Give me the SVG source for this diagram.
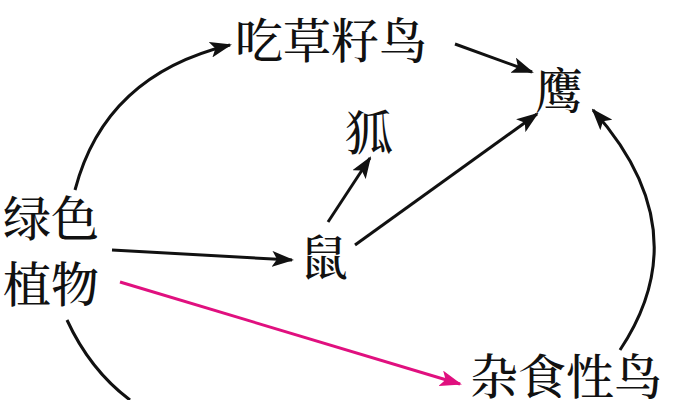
<svg xmlns="http://www.w3.org/2000/svg" width="689" height="400" viewBox="0 0 689 400">
<defs>
<marker id="ab" markerWidth="22" markerHeight="16" refX="20" refY="8" orient="auto" markerUnits="userSpaceOnUse" viewBox="0 0 22 16"><path d="M0,0 L22,8 L0,16 L5,8 Z" fill="#111"/></marker>
<marker id="am" markerWidth="22" markerHeight="16" refX="20" refY="8" orient="auto" markerUnits="userSpaceOnUse" viewBox="0 0 22 16"><path d="M0,0 L22,8 L0,16 L5,8 Z" fill="#e0107f"/></marker>
<style>
text{font-family:"Noto Serif CJK SC","Noto Sans CJK SC",serif;font-size:48px;font-weight:500;fill:#111}
.c{fill:none;stroke:#111;stroke-width:3}
</style>
</defs>
<rect width="689" height="400" fill="#fff"/>
<g id="connectors">
<path class="c" d="M75,190 Q105,75 230,45" marker-end="url(#ab)"/>
<path class="c" d="M455,44 L532,72" marker-end="url(#ab)"/>
<path class="c" d="M112,250 L292,260" marker-end="url(#ab)"/>
<path class="c" d="M328,222 L370,158" marker-end="url(#ab)"/>
<path class="c" d="M355,245 L537,114" marker-end="url(#ab)"/>
<path class="c" d="M620,350 Q700,230 593,110" marker-end="url(#ab)"/>
<path class="c" d="M67,320 Q90,370 130,400"/>
<path d="M120,282 L460,384" fill="none" stroke="#e0107f" stroke-width="3" marker-end="url(#am)"/>
</g>
<g id="n1"><text x="235" y="58">吃草籽鸟</text></g>
<g id="n2"><text x="535" y="108">鹰</text></g>
<g id="n3"><text x="345" y="150">狐</text></g>
<g id="n4"><text x="3" y="236">绿色</text><text x="3" y="302">植物</text></g>
<g id="n5"><text x="300" y="275">鼠</text></g>
<g id="n6"><text x="470" y="394">杂食性鸟</text></g>
</svg>
